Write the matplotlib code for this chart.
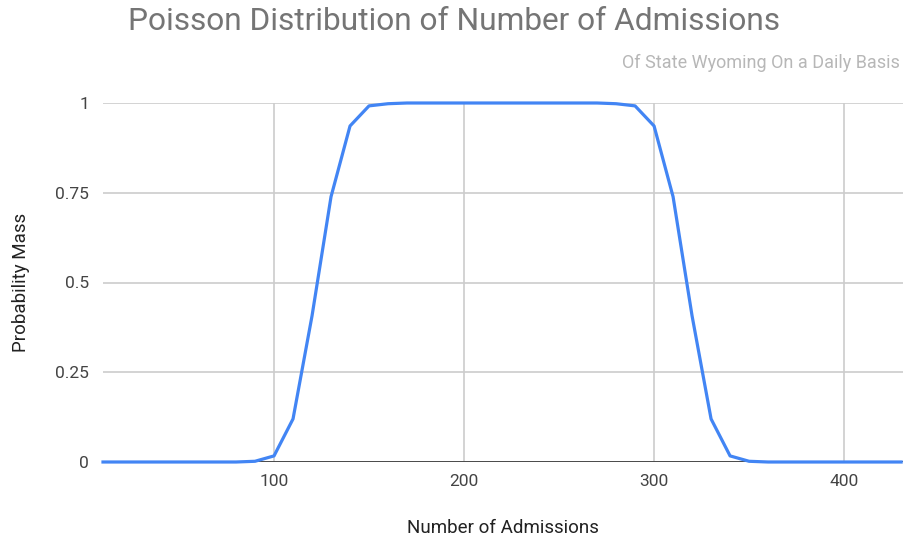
import numpy as np
import matplotlib.pyplot as plt
from matplotlib.ticker import FixedLocator

plt.rcParams['font.family'] = ['Roboto', 'DejaVu Sans']

# admissions per day and the probability mass read at each step
admissions = np.arange(10, 440, 10)
prob_mass = [0, 0, 0, 0, 0, 0, 0, 0, 0.002, 0.017, 0.12, 0.407, 0.739, 0.936,
             0.992, 0.998, 1, 1, 1, 1, 1, 1, 1, 1, 1, 1, 1, 0.998, 0.992,
             0.936, 0.739, 0.407, 0.12, 0.017, 0.002, 0, 0, 0, 0, 0, 0, 0, 0]
x_ticks = [100, 200, 300, 400]
y_ticks = [0, 0.25, 0.5, 0.75, 1]
y_labels = ['0', '0.25', '0.5', '0.75', '1']

fig = plt.figure(figsize=(9.04, 5.39), dpi=100)
ax = fig.add_axes([103 / 904, 1 - 462 / 539, 800 / 904, 359 / 539])

ax.plot(admissions, prob_mass, color='#4285f4', lw=2.3, clip_on=False, zorder=3,
        solid_joinstyle='round')
ax.axhline(0, color='#333333', lw=1.2, zorder=2)

ax.set_xlim(10, 431)
ax.set_ylim(0, 1)
ax.xaxis.set_major_locator(FixedLocator(x_ticks))
ax.set_yticks(y_ticks)
ax.set_yticklabels(y_labels)
ax.grid(True, color='#cccccc', lw=1.2)
ax.set_axisbelow(True)
for s in ax.spines.values():
    s.set_visible(False)
ax.tick_params(length=0, labelsize=12.5, labelcolor='#444444')
ax.tick_params(axis='x', pad=9)
ax.tick_params(axis='y', pad=10)

ax.set_xlabel('Number of Admissions', fontsize=13.5, color='#222222', labelpad=21)
ax.set_ylabel('Probability Mass', fontsize=13.5, color='#222222', labelpad=18)

fig.text(454 / 904, 1 - 22 / 539, 'Poisson Distribution of Number of Admissions',
         ha='center', va='center', fontsize=22.8, color='#757575')
fig.text(900 / 904, 1 - 63 / 539, 'Of State Wyoming On a Daily Basis',
         ha='right', va='center', fontsize=13, color='#b7b7b7')

fig.savefig('out.png', dpi=100)
